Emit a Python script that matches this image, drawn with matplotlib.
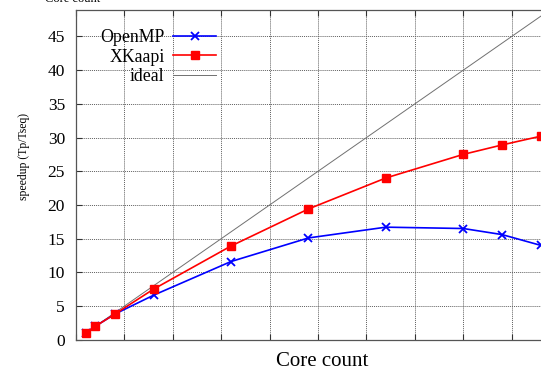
import matplotlib
matplotlib.use("Agg")
import matplotlib.pyplot as plt
import numpy as np

cores = [1, 2, 4, 8, 16, 24, 32, 40, 44, 48]
openmp = [1.0, 2.0, 3.8, 6.6, 11.6, 15.1, 16.7, 16.5, 15.6, 14.0]
xkaapi = [1.0, 2.0, 3.8, 7.5, 13.9, 19.4, 24.0, 27.5, 28.9, 30.2]
ideal_x = [1, 50]
ideal_y = [1, 50]
yticks = [0, 5, 10, 15, 20, 25, 30, 35, 40, 45]
xticks = [0, 5, 10, 15, 20, 25, 30, 35, 40, 45, 50]

plt.rcParams['font.family'] = ['Liberation Serif', 'DejaVu Serif']

W, H = 541, 367
fig = plt.figure(figsize=(W / 100, H / 100), dpi=100)
L, R, T, B = 76.1, 560.1, 9.5, 339.7
ax = fig.add_axes([L / W, (H - B) / H, (R - L) / W, (B - T) / H])

ax.plot(cores, openmp, color='#0000ff', lw=1.2, marker='x', ms=5.5, mew=1.3, label='OpenMP', zorder=4)
ax.plot(cores, xkaapi, color='#ff0000', lw=1.2, marker='s', ms=5.5, label='XKaapi', zorder=5)
ax.plot(ideal_x, ideal_y, color='#707070', lw=0.7, label='ideal', zorder=3)

ax.set_xlim(0, 50)
ax.set_ylim(0, 49)
ax.set_xticks(xticks)
ax.set_xticklabels([])
ax.set_yticks(yticks)
ax.set_yticklabels([str(v) for v in yticks], fontsize=12.5)
ax.tick_params(axis='both', direction='in', length=4, width=0.8, color='#333333',
               top=True, right=True, pad=8)
ax.grid(True, linestyle=(0, (1, 1)), color='#606060', linewidth=0.7)
for s in ax.spines.values():
    s.set_color('#555555')
    s.set_linewidth(0.9)

ax.set_ylabel('speedup (Tp/Tseq)', fontsize=8.5)
ax.yaxis.set_label_coords((30 - L) / (R - L), (B - 157) / (B - T))
fig.text(322 / W, (H - 365.5) / H, 'Core count', ha='center', va='baseline', fontsize=15)
# partially visible label of the chart above
fig.text(73 / W, (H - 1.5) / H, 'Core count', ha='center', va='baseline', fontsize=9)

leg = ax.legend(loc='upper right', bbox_to_anchor=(216 / W, (H - 29) / H),
                bbox_transform=fig.transFigure, frameon=False, markerfirst=False,
                fontsize=12.8, handlelength=2.4, handletextpad=0.5, labelspacing=0.15,
                borderpad=0, borderaxespad=0)

fig.savefig('out.png', dpi=100)
